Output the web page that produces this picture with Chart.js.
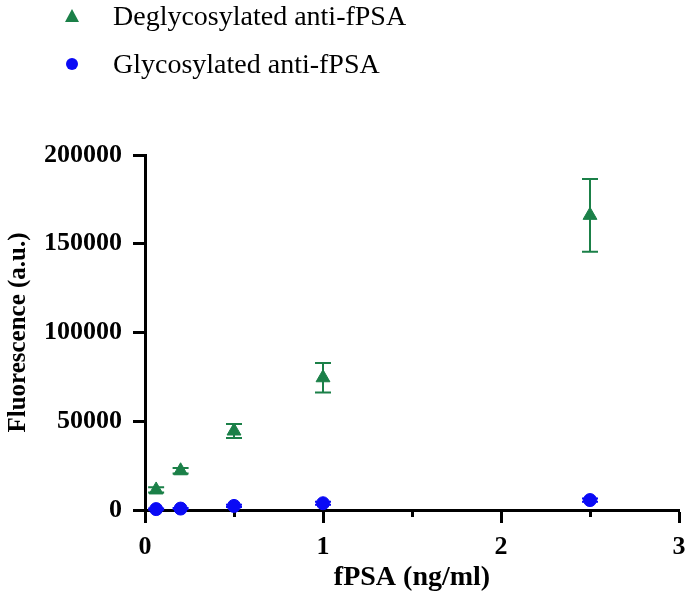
<!DOCTYPE html>
<html>
<head>
<meta charset="utf-8">
<script src="https://cdn.jsdelivr.net/npm/chart.js@4.4.1/dist/chart.umd.min.js"></script>
<style>
  html, body { margin: 0; padding: 0; background: #fff; }
  #wrap { position: relative; width: 688px; height: 607px; }
  #legend { position: absolute; left: 0; top: 0; font-family: "Liberation Serif", serif; font-size: 28px; color: #000; }
  .item { position: absolute; left: 60px; white-space: nowrap; height: 32px; line-height: 32px; }
  .item span.lbl { position: absolute; left: 53px; top: 0; }
  .tri { position: absolute; left: 5px; top: 9px; width: 0; height: 0;
         border-left: 7px solid transparent; border-right: 7px solid transparent; border-bottom: 13px solid #1b8048; }
  .dot { position: absolute; left: 6px; top: 10px; width: 12px; height: 12px; border-radius: 50%; background: #0a0af5; }
</style>
</head>
<body>
<div id="wrap">
  <canvas id="myChart" width="688" height="607"></canvas>
  <div id="legend"></div>
</div>
<script>
// concentrations (ng/ml)
const conc = [0.0625, 0.2, 0.5, 1, 2.5];
// deglycosylated anti-fPSA
const deglyMean = [11300, 22100, 44500, 74500, 166000];
const deglyErr = [1500, 1500, 4000, 8300, 20500];
// glycosylated anti-fPSA
const glyMean = [500, 800, 2300, 3800, 5600];
const glyErr = [300, 300, 600, 800, 900];

const xTicks = [0, 1, 2, 3];
const xMinorTicks = [0.5, 1.5, 2.5];
const yTicks = [0, 50000, 100000, 150000, 200000];

const green = '#1b8048';
const blue = '#0a0af5';

function toPoints(xs, ys) {
    return xs.map((x, i) => ({ x: x, y: ys[i] }));
}

// draws the SD bars behind the markers
const errorBars = {
    id: 'errorBars',
    beforeDatasetsDraw(chart) {
        const ctx = chart.ctx;
        const yScale = chart.scales.y;
        chart.data.datasets.forEach((ds, i) => {
            const meta = chart.getDatasetMeta(i);
            meta.data.forEach((pt, j) => {
                const e = ds.errors[j];
                const top = yScale.getPixelForValue(ds.data[j].y + e);
                const bot = yScale.getPixelForValue(ds.data[j].y - e);
                ctx.save();
                ctx.strokeStyle = ds.borderColor;
                ctx.lineWidth = 2;
                ctx.beginPath();
                ctx.moveTo(pt.x, top);
                ctx.lineTo(pt.x, bot);
                ctx.moveTo(pt.x - 8, top);
                ctx.lineTo(pt.x + 8, top);
                ctx.moveTo(pt.x - 8, bot);
                ctx.lineTo(pt.x + 8, bot);
                ctx.stroke();
                ctx.restore();
            });
        });
    }
};

const data = {
    datasets: [
        {
            label: 'Deglycosylated anti-fPSA',
            data: toPoints(conc, deglyMean),
            errors: deglyErr,
            pointStyle: 'triangle',
            pointRadius: 8,
            backgroundColor: green,
            borderColor: green,
            borderWidth: 1,
            showLine: false,
            clip: false
        },
        {
            label: 'Glycosylated anti-fPSA',
            data: toPoints(conc, glyMean),
            errors: glyErr,
            pointStyle: 'circle',
            pointRadius: 6.5,
            backgroundColor: blue,
            borderColor: blue,
            borderWidth: 1,
            showLine: false,
            clip: false
        }
    ]
};

const tickFont = { family: '"Liberation Serif", serif', size: 26, weight: 'bold' };

let ctx = document.getElementById('myChart');
let myChart = new Chart(ctx, {
    type: 'scatter',
    data: data,
    plugins: [errorBars],
    options: {
        responsive: false,
        animation: false,
        layout: { padding: { top: 155, right: 7, left: 0, bottom: 0 } },
        plugins: {
            legend: { display: false },
            tooltip: { enabled: false }
        },
        scales: {
            x: {
                type: 'linear',
                min: 0,
                max: 3,
                afterBuildTicks: (axis) => { axis.ticks = xTicks.map(v => ({ value: v })); },
                afterFit: (axis) => { axis.height = 97; axis.paddingRight = 7; },
                border: { color: '#000', width: 3 },
                grid: { drawOnChartArea: false, drawTicks: true, tickLength: 13, tickColor: '#000', tickWidth: 3 },
                ticks: { color: '#000', font: tickFont, padding: 9, callback: v => String(v) },
                title: { display: true, text: 'fPSA (ng/ml)', color: '#000', font: { family: '"Liberation Serif", serif', size: 28, weight: 'bold' }, padding: { top: 4, bottom: 12 } }
            },
            // short minor ticks between the labelled ones
            xMinor: {
                type: 'linear',
                position: 'bottom',
                weight: -1,
                min: 0,
                max: 3,
                afterBuildTicks: (axis) => { axis.ticks = xMinorTicks.map(v => ({ value: v })); },
                afterFit: (axis) => { axis.height = 0; axis.paddingRight = 0; axis.paddingLeft = 0; },
                border: { display: false },
                grid: { drawOnChartArea: false, drawTicks: true, tickLength: 7, tickColor: '#000', tickWidth: 3 },
                ticks: { display: false }
            },
            y: {
                type: 'linear',
                min: 0,
                max: 200000,
                afterBuildTicks: (axis) => { axis.ticks = yTicks.map(v => ({ value: v })); },
                afterFit: (axis) => { axis.width = 145; },
                border: { color: '#000', width: 3 },
                grid: { drawOnChartArea: false, drawTicks: true, tickLength: 12, tickColor: '#000', tickWidth: 3 },
                ticks: { color: '#000', font: tickFont, padding: 11, callback: v => String(v) },
                title: { display: true, text: 'Fluorescence (a.u.)', color: '#000', font: { family: '"Liberation Serif", serif', size: 25, weight: 'bold' }, padding: 4 }
            }
        }
    }
});

// legend built from the dataset labels
const legend = document.getElementById('legend');
const legendTops = [0, 48];
data.datasets.forEach((ds, i) => {
    const item = document.createElement('div');
    item.className = 'item';
    item.style.top = legendTops[i] + 'px';
    const mark = document.createElement('div');
    mark.className = ds.pointStyle === 'triangle' ? 'tri' : 'dot';
    const lbl = document.createElement('span');
    lbl.className = 'lbl';
    lbl.textContent = ds.label;
    item.appendChild(mark);
    item.appendChild(lbl);
    legend.appendChild(item);
});
</script>
</body>
</html>
